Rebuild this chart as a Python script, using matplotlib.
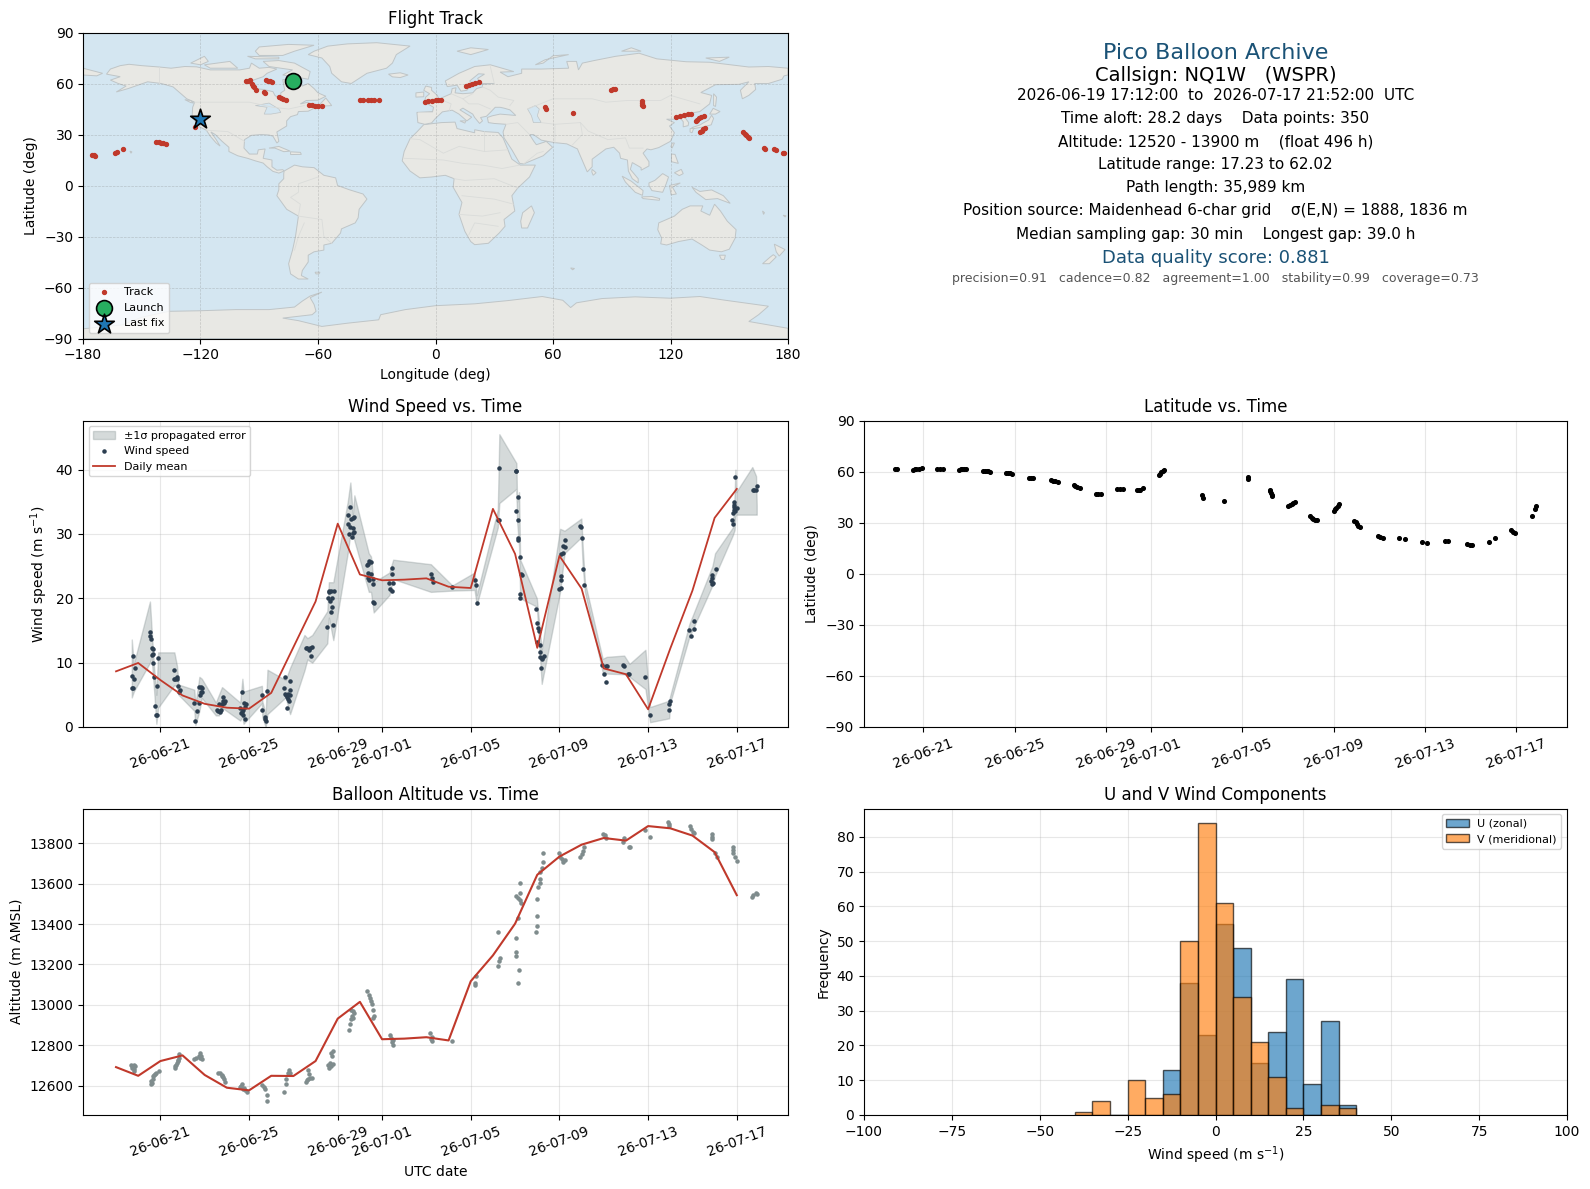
import datetime
import numpy as np
import matplotlib
matplotlib.use("Agg")
import matplotlib.pyplot as plt
import matplotlib.dates as mdates
from matplotlib.patches import Polygon

# ---- track, lon/lat
track_lon = [-175.3,-174.5,-173.7,-163.6,-162.6,-159.4,-142.5,-141.3,-140.1,-139,-137.8,-122.6,
             -96.8,-95.8,-94.9,-93.8,-93.2,-92.6,-91.9,-87.8,-87.2,-86.7,-85.6,-84.6,-83.4,-79.7,-78.8,-78,-76.4,
             -64.7,-63,-61.6,-60,-58.1,-38.7,-37,-34.7,-33,-31.2,-28.8,-5.4,-3.6,-1.9,0,1.4,2.8,
             15.7,17.2,18.7,20.3,22,56,56.2,70.1,89.5,90.7,91.9,105.2,105.4,105.7,105.9,
             123,125,127,128.8,130.5,132.9,133.6,134.5,135.8,137.3,135.2,136,136.8,137.6,
             156.8,157.8,158.7,159.5,160.3,167.8,168.3,173,173.8,177.4,178.2]
track_lat = [18.2,17.9,17.6,19.4,20,21.7,25.6,25.3,25,24.8,24.5,34.4,
             61.4,61.7,61.8,59.9,58.8,57.9,56,54.8,54.5,61.8,61.7,61.4,61.1,52,51.5,51.1,50.3,
             47.6,47.2,47,46.9,46.8,50.1,50.3,50.3,50.4,50.3,50.3,49.3,49.6,49.9,50.1,50.4,50.5,
             58.3,58.9,59.5,60.3,61.1,46.2,44.8,42.9,56.4,56.6,56.8,49.5,48.5,47.5,46.6,
             40.3,40.9,41.5,41.9,42.3,37.8,38.7,39.5,40.1,40.7,31.5,32.3,33.2,34,
             31.5,30.5,29.5,28.8,28,22.2,21.7,21.2,21,19.1,19.3]
launch_lon, launch_lat = -73.0, 61.6
last_lon, last_lat = -120.2, 39.3

# ---- land outlines (lon, lat), rough by hand
north_america = [(-168,65.5),(-166,68.5),(-161,70.5),(-156.5,71.3),(-150,70.5),(-141,69.7),(-135,69),(-128,70),(-122,69.8),(-115,68),(-108,68),(-100,68),(-95,69),(-94,72),(-90,69),(-85,69.5),(-81,68.5),(-86,66),(-88,64),(-93,62),(-94.5,59),(-92.5,57),(-88,56.5),(-83,55.2),(-82,53),(-80,51.3),(-79,52.5),(-79,54.5),(-77,56),(-77.5,59),(-78,62.3),(-73,62),(-70,61),(-68,58.5),(-65,60),(-62,57),(-60,54.5),(-56,52.5),(-60,50.2),(-66,50),(-69,48),(-65,49),(-64.5,47),(-61,46),(-65,43.7),(-70,43.5),(-70.5,41.7),(-74,40.5),(-76,38),(-76,35),(-81,31.5),(-80,26),(-81,25),(-83,29),(-85,29.7),(-89,30),(-94,29.5),(-97.5,27),(-97.8,22),(-95,18.5),(-91,18.5),(-90.5,21),(-87,21.5),(-88,16),(-83.5,15),(-83.5,11),(-81,9),(-78,9.3),(-77.3,8.5),(-80,7.3),(-83,8.3),(-86,11),(-88,13.2),(-92,14.5),(-96,16),(-101,17.5),(-105.5,20),(-105.5,22.5),(-109,26),(-112.5,30),(-114.7,31.5),(-112,27),(-110,23.2),(-112,25),(-115,29),(-117,32.5),(-120.5,34.5),(-122.5,37.5),(-124.3,40.5),(-124,46),(-123,49),(-127,51),(-130.5,54.5),(-134,58),(-140,60),(-147,61),(-152,59),(-157,57),(-163,55),(-158,58.5),(-162,60),(-166,62),(-161,64)]
south_america = [(-77.3,8.5),(-72,12),(-68,11),(-62,10.5),(-57,6),(-51,4.5),(-50,0),(-44,-2.5),(-37,-5),(-35,-8),(-39,-14),(-39.5,-19),(-41,-22),(-48,-25.5),(-48.5,-28),(-53,-34),(-57,-35),(-57,-38),(-62,-39),(-65,-41),(-65,-45),(-68,-50),(-68.5,-53),(-65,-55),(-70,-55),(-74,-52),(-75,-46),(-73,-38),(-71.5,-30),(-70,-18),(-76,-14),(-81,-6),(-80,-2.5),(-80,1),(-77.5,4),(-77.5,7)]
africa = [(-6,35.8),(3,37),(10,37.3),(11,33.5),(20,31),(20,32.8),(25,31.7),(32,31.2),(34.5,28),(37,21),(39,15.5),(43.3,12),(51,12),(48,5),(42,-1.5),(39,-6),(40.5,-15),(35,-20),(35.5,-24),(32.5,-28),(27,-34),(20,-34.8),(18,-33),(15,-27),(12,-17),(13.5,-10),(9,-1),(9.5,4),(5,6),(-2,5),(-8,4.5),(-13,8.5),(-17,14.5),(-16,20),(-13,27.5),(-9.5,31.5)]
eurasia = [(-9,37),(-9.5,43),(-1.5,43.5),(-1,46),(-4.5,48.4),(1.5,50.5),(4,52),(8,54),(8.5,57),(10.5,57.5),(10,54.5),(14,54),(19,54.5),(21,57),(24,58),(24,59.5),(30,60),(23,60),(21.5,63),(25,65.5),(22,65.7),(17.5,61.5),(18.5,59.5),(16,56),(13,55.5),(11,59),(6,58.2),(5,61.5),(12,66),(20,70),(28,71),(40,67),(33,66.7),(37,64),(44,66),(44,68.5),(54,68.5),(68,69),(67,73),(72,73),(73,68),(75,72),(81,73.5),(92,76),(104,77.8),(113,74.5),(128,72.8),(140,72.5),(160,69.7),(170,70),(180,69),(180,65),(178,64.5),(177,62.5),(170,60),(163,60),(163.5,56.5),(160,53),(156.7,51),(155.7,56),(160,61),(155,59.5),(143,59.3),(135.5,54.7),(141,53),(140,48),(135,43.5),(130,42.5),(127.5,39.8),(129.3,37),(129,35.2),(126.5,34.5),(126.5,37.5),(125,39.7),(121.5,39),(118,39),(122,37),(119.5,35),(122,31),(120,26),(114,22.3),(110,21),(108,21.5),(106,19),(109,14),(109,11.5),(105,9),(105,10.5),(100.5,13.5),(99.5,9.5),(103.5,4),(103.5,1.5),(100.5,4),(98.5,8.5),(98,15),(94.5,16),(94,19),(91,22.5),(87,21.5),(80,15.5),(80,11),(77.5,8),(73,20),(72.5,21.5),(67,24.5),(61,25.2),(57,26),(54,26.7),(50,30),(48,30),(50.2,26),(51.5,24),(55.5,25.5),(56.5,26),(59.8,22.5),(55,17.5),(45,12.7),(43,13),(39,21),(35,28),(34.5,31.5),(36,36),(30,36.5),(27,37),(26.5,40),(29,41),(33,42),(41,41.2),(38,44.5),(35,45.5),(33,46),(30.5,46),(28,43),(26,40.7),(23,40),(24,38),(22.5,36.5),(20,40),(19,42),(14,45.5),(12.5,44.5),(18.5,40.2),(16,38),(12,42),(8.5,44.3),(3.5,43.3),(0,39.5),(-2,36.8),(-5.5,36)]
australia = [(114,-22),(122,-18),(126,-14),(130,-12),(136.5,-12),(135.5,-15),(140,-17.5),(142.5,-11),(145.5,-15),(149,-21),(153.5,-26),(153,-31),(150,-37.5),(146,-39),(140,-38),(136,-35),(131,-31.5),(124,-33),(118,-35),(115,-34.3),(115.5,-31),(113.5,-26)]
antarctica = [(-180,-90),(-180,-84.3),(-160,-82),(-150,-77.5),(-136,-74),(-121,-73.7),(-102,-73),(-85,-73),(-72,-71.5),(-68,-68),(-64,-65),(-58,-62.7),(-64,-66),(-62,-70),(-61,-74),(-63,-76),(-78,-78),(-70,-79.5),(-58,-82.9),(-45,-81),(-29,-79),(-28,-76),(-15.4,-73),(0,-70.7),(20,-69.6),(37,-67.7),(54.5,-65.3),(65,-67.5),(69,-71.8),(72,-69),(85,-66.5),(102,-65.5),(120,-66.3),(135,-65.3),(148,-67.5),(170,-71),(165,-76),(160,-80),(180,-84),(180,-90)]
greenland = [(-62,79),(-55,82),(-45,83.3),(-30,84),(-13,82),(-20,77),(-22,72),(-25,69),(-35,66),(-43,60),(-48,61),(-53,66),(-54,70),(-58,75),(-65,77)]
islands = [
    [(-80,73.5),(-72,72),(-64,67),(-65,62.5),(-72,64),(-78,65),(-73,68),(-85,70),(-88,73)],
    [(-90,76.5),(-78,76.5),(-72,79),(-62,82.5),(-75,83),(-90,81.5),(-92,79)],
    [(-118,71),(-105,73),(-101,69),(-115,69)],
    [(-125,72),(-118,76),(-116,73),(-120,71)],
    [(-96,76),(-80,75.5),(-80,74.5),(-92,74.5)],
    [(-59,47.8),(-56,51.5),(-53,47),(-56,46.8)],
    [(-85,22),(-80,23),(-74.2,20.2),(-77.5,19.9),(-82,22)],
    [(-74,19.8),(-69,19.5),(-68.5,18.3),(-74,18.2)],
    [(-24,65.5),(-18,66.3),(-14,65),(-18,63.5),(-22,63.9)],
    [(49,-12),(50.5,-16),(47,-25),(44,-25),(43.5,-21),(44.5,-16)],
    [(-180,69),(-175,67.5),(-170,66),(-173,64.5),(-180,65)],
    [(-5.5,50),(1.5,51.2),(1,53),(-2,56),(-2,57.7),(-5,58.5),(-6,56),(-3,54),(-5,52)],
    [(-10,52),(-6,52.2),(-6,55),(-10,54.5)],
    [(12.5,38),(15.5,38),(15,36.7)],
    [(130.8,34),(135,35.6),(137,37),(139.5,38.5),(141,41.3),(142,39.5),(140.8,35.7),(137,34.5),(132,33.5)],
    [(130,33.5),(131.8,33.5),(131,31),(130,31.5)],
    [(140,42),(141.8,45.4),(145.3,43.5),(143,42)],
    [(142,54),(143.5,52),(143,46.5),(142,47),(142,51)],
    [(121,25),(122,25),(120.8,22),(120.2,23)],
    [(80,9.5),(82,7.5),(80.5,6),(79.8,8)],
    [(120.5,18.5),(122.3,18.3),(124,13),(120.5,14)],
    [(122,7.5),(125.5,9.5),(126.5,7),(124.5,5.8)],
    [(95.3,5.5),(100,2.5),(106,-3),(105.7,-5.8),(102,-4),(97,2)],
    [(105.2,-6.7),(110.5,-6.5),(114.5,-7.7),(114.3,-8.7),(106,-7.7)],
    [(109,1.5),(112,3),(116,7),(119,5),(117.8,1),(116,-4),(110.5,-3),(109,0)],
    [(119.5,0),(125,1.5),(121,-1),(123,-5),(120.3,-5.5)],
    [(131,-1),(135,-3.5),(141,-2.6),(147,-6),(150.5,-10.5),(144,-7.7),(138,-8.3),(133,-4)],
    [(145,-41),(148,-41),(147.5,-43.5),(146,-43.5)],
    [(173,-34.5),(178.5,-37.7),(175.5,-41.5),(174,-39)],
    [(172.5,-40.7),(174,-42),(170.5,-46),(167,-46),(171,-42)],
    [(11,79),(18,81),(27,80),(18,77)],
    [(51,71),(56,74),(68,77),(60,76.3),(55,72)],
    [(95,79),(105,79),(100,81)],
    [(138,75),(150,75.5),(145,73)],
    [(-128,50.5),(-125,50),(-123.5,48.5),(-125,48.8)],
    [(-61.5,-51),(-59,-51),(-59.5,-52),(-61,-52)],
    [(69,-48.5),(71,-48.8),(70,-49.6)],
    [(167,-15),(168,-16),(167.5,-17)],
    [(177.5,-17.5),(179,-17.8),(178.5,-18.5)],
    [(-156,20.2),(-155,19.8),(-155.5,19)],
]
inland_water = [
    [(47,45),(51,47),(53,45),(52,41),(54,37),(50,37),(49,41)],
    [(-92,47),(-85,48.5),(-80,45),(-79,43),(-84,42),(-87.5,42),(-86,46)],
]
borders = [
    [(-123,49),(-95,49),(-83,46),(-75,45),(-67,47)],
    [(-117,32.5),(-106,31.7),(-97.5,26)],
    [(-141,69.7),(-141,60)],
    [(-70,-18),(-58,-20),(-57,-30),(-53,-34)],
    [(-70,-18),(-69,-11),(-74,-7),(-70,-4),(-70,1),(-60,5)],
    [(-72,-38),(-70,-30),(-67,-22)],
    [(-9,43),(-2,43)],[(2,51),(6,49),(8,48),(7,44)],[(8,54),(14,51),(19,54)],[(14,51),(17,48),(22,48),(28,45)],
    [(28,70),(30,60)],[(24,58),(28,56),(32,52),(40,50),(38,47)],[(47,45),(60,51),(80,51),(87,49),(98,50),(115,50),(120,53),(135,48)],
    [(54,37),(61,36),(61,25)],[(61,36),(74,37),(78,32),(88,27),(97,28),(99,22),(106,22)],[(74,37),(75,30),(70,24)],
    [(36,36),(42,37),(48,30)],[(45,12.7),(52,19),(55,20)],
    [(-13,27.5),(-8,27),(4,19),(12,23),(25,20),(25,31.7)],[(25,20),(37,21)],[(-16,16),(4,15),(14,13),(24,12),(34,10),(43,12)],
    [(9.5,4),(15,3),(30,4),(42,-1.5)],[(13.5,-6),(30,-8),(40,-11)],[(12,-17),(24,-18),(33,-16)],[(17,-29),(20,-22),(32,-24)],
]

# ---- wind panel, days after 2026-06-21 00:00 UTC
wind_t = [-1.29,-1.25,-1.27,-1.17,-1.22,-1.16,
          -.47,-.45,-.41,-.38,-.33,-.38,-.32,-.32,-.29,-.14,-.23,-.18,-.17,-.09,
          .63,.62,.68,.74,.77,.81,.87,.83,
          1.53,1.58,1.67,1.76,1.74,1.82,1.89,1.79,1.83,1.89,
          2.56,2.62,2.68,2.72,2.63,2.77,2.84,2.81,2.90,2.86,
          3.70,3.61,3.65,3.70,3.74,3.82,3.77,3.86,3.83,3.74,
          4.60,4.83,4.60,4.71,4.77,4.74,
          5.64,5.86,5.59,5.85,5.67,5.77,5.85,5.70,5.77,5.82,5.73,5.62,
          6.56,6.63,6.69,6.75,6.86,6.80,
          7.53,7.58,7.62,7.70,7.82,7.61,7.74,7.65,7.74,7.71,7.80,
          8.57,8.48,8.68,8.75,8.60,8.48,8.56,8.71,8.75,8.71,8.53,8.66,
          9.41,9.48,9.35,9.33,9.38,9.51,9.35,9.41,9.58,9.61,9.61,9.65,
          10.44,10.47,10.33,10.50,10.36,10.44,
          12.2,12.26,12.29,13.17,14.17,14.23,14.27,15.29,15.22,15.29,
          16.03,16.06,16.15,16.06,16.11,16.11,16.15,16.24,16.27,16.3,16.24,16.2,
          16.96,17.0,17.05,17.1,16.99,17.13,17.14,17.14,17.29,17.22,17.23,17.19,
          18.05,18.05,18.05,18.0,18.09,18.18,18.18,18.24,18.23,
          18.95,18.99,19.04,19.08,19.13,
          19.94,20.15,20.1,20.03,20.12,20.89,20.93,21.11,21.16,21.88,
          22.1,22.92,22.96,23.0,23.86,23.95,24.05,24.09,
          24.9,24.87,24.84,24.89,24.92,25.08,
          25.8,25.82,25.85,25.88,25.89,25.93,26.0,25.94,25.86,25.87,
          26.71,26.78,26.87,26.9]
wind_speed = [6.1,6.1,7.9,7.5,11.0,9.1,
              14.8,14.1,13.6,12.3,12.1,11.2,11.4,10,7.7,6.3,3.2,1.9,1.9,10.8,
              8.9,7.4,7.5,7.8,7.4,6.4,5.8,5.5,
              3.7,1.0,2.5,3.8,6.2,6.2,6.1,5,5.4,5.5,
              2.6,2.5,2.3,2.6,3.6,3.6,4.7,4.1,4.1,3.8,
              5.5,3.0,2.2,2.3,2.7,1.3,3.7,3.6,3.1,1.8,
              5.0,5.6,2.6,1.5,1.0,1.2,
              7.7,7.2,6.1,5.8,5,5.2,4.9,4.6,4.4,4,3,5.2,
              12.3,12.2,12,12.2,12.5,11,
              15.6,20,21.1,21.2,21.2,21,20.1,19.6,18.7,17.8,15.8,
              34.2,33,32.5,32.6,32.4,31.6,31.1,31,30.3,30.2,30,29.6,
              25.8,25.7,25.4,25.1,23.9,23.8,23.1,22.8,23,22.2,19.4,19.3,
              24.7,23.8,22.4,22.4,21.5,21.1,
              23.7,23.1,22.5,21.7,22.9,22,19.2,40.2,32.2,32.1,
              39.8,39.8,35.8,33.6,32.2,29.4,29.1,26.4,23.8,23.6,20.7,20.1,
              18.4,16.2,15.4,14.9,13.2,12.7,11.7,10.9,11.1,10.8,10.5,9.1,
              23.5,22.8,21.6,21.5,26.9,27.1,28.1,27.9,29.1,
              31.2,31.1,29.3,24.6,22,
              9.6,9.5,9.5,8.2,7,9.6,9.5,8.3,8.3,7.7,
              1.9,2.7,3.6,4,15,14.2,15.2,16.5,
              23.6,23.1,22.7,22.3,22.4,24.6,
              32.1,31.5,33.2,34.2,35,33.5,34,38.8,33.7,34.5,
              36.8,36.8,36.8,37.4]

# outline of the error band
band_t = [-1.29,-1.2,-.47,-.4,-.29,-.18,-.1,.63,.75,.82,1.53,1.58,1.76,1.87,2.5,2.64,2.78,3.6,3.7,3.75,
          4.58,4.6,4.75,4.83,5.65,5.85,6.5,6.63,6.85,7.53,7.6,7.8,8.45,8.57,8.68,8.75,9.4,9.5,9.62,
          10.33,10.5,12.2,13.17,14.17,14.27,15.22,15.29,16.06,16.09,16.18,16.23,16.98,17.2,18.03,18.23,
          18.99,19.05,19.15,19.95,20.13,20.92,21.16,21.88,22.09,22.95,23.0,23.86,24.9,25.02,25.82,25.9,25.94,25.97,26.7,26.87,26.9]
band_hi = [13.6,9.8,19.5,15.5,9.5,5,11.6,11.6,9.5,6.6,5.8,3.5,7.8,7.5,3.8,5,6.2,3.8,7.5,5.5,
           6.4,4,2,8.9,7.3,9.2,14.3,13.8,14.3,18,22.5,22.5,35,38,33,36,27,26.5,22.5,
           24,26,25.3,22,24,20.5,33.8,45.5,41,35,36.5,26,20,12,30.8,30.5,
           32.4,28,22.5,10.6,10.9,11.1,9.8,12,3.1,4.1,4.9,16,25,27,31,36,40,36.5,40.4,39,34.4]
band_lo = [4.6,5.5,10,11,6,0.5,3,6.5,6.3,5,2.5,0.3,2.5,4.5,1.8,1.8,3,1,1.6,0.5,
           3.7,1.5,0,2,4.6,2,8.8,10.5,10,13,17,13.5,27,30,30,29,21,21,17.8,
           20.5,23,21,21.2,21.3,19,31,34.8,37,32,28,20,18.7,6.7,21,27,
           29.5,25,21,8.5,8.3,8.2,7.8,5.9,0.75,1.35,3.8,14,22,23.5,29.8,30.6,32.7,33,33,33,33]

# midnight UTC means, days -2 .. 26
mean_t = list(range(-2, 27))
wind_mean = [8.65,9.95,7.3,4.9,3.6,3.0,2.85,5.3,12.4,19.5,31.6,23.7,22.8,22.9,23.1,21.8,21.6,33.9,26.9,12.3,26.6,21.5,9.1,8.2,2.75,12.2,21.2,32.5,37]
alt_mean = [12692,12649,12722,12750,12653,12590,12577,12649,12648,12722,12932,13015,12830,12833,12840,12824,13117,13245,13402,13644,13734,13793,13826,13813,13885,13874,13838,13756,13543]

# ---- latitude panel
lat_t = [-1.24,-1.16,-.46,-.38,-.31,-.2,-.08,.60,.72,.85,1.57,1.65,1.70,1.80,1.88,2.63,2.70,2.77,2.85,2.92,3.63,3.72,3.79,3.89,4.62,4.72,4.82,
         5.59,5.68,5.76,5.90,6.60,6.66,6.73,6.85,7.56,7.68,7.81,8.49,8.62,8.76,9.36,9.45,9.52,9.63,10.33,10.38,10.44,10.5,10.56,
         12.22,12.26,13.19,14.24,14.24,15.2,15.23,15.26,15.29,15.32,16.02,16.1,16.17,16.24,16.31,16.98,17.04,17.10,17.2,17.29,
         18.0,18.05,18.1,18.18,18.26,18.92,18.98,19.03,19.09,19.15,19.94,20.05,20.16,20.89,21.14,21.9,22.1,22.88,23.04,
         23.87,24.0,24.1,24.84,25.07,25.8,25.9,25.98,26.73,26.85,26.9]
lat_deg = [61.8,61.4,61.2,61.5,61.8,61.9,62,61.4,61.4,61.4,61.2,61.4,61.6,61.5,61.4,60.2,60.4,60.6,60.3,60,59.2,59.1,59,58.4,56.6,56.6,56.6,
           55.1,54.8,54.5,54.1,52.3,51.7,51.1,50.5,47.2,47.2,47.2,50.1,50.1,50.1,49.5,49.5,49.5,50.7,58,58.8,59.6,60.3,61,
           46.2,44.8,43,57,55.5,49.5,48.5,47.6,46.6,45.6,39.7,40.3,40.9,41.5,42.2,34,33,32.2,31.7,31.4,
           36.9,37.9,38.9,40,41.3,31.2,30.3,29.4,28.4,27.5,22.3,21.6,20.9,21.1,20.7,19,18.2,19.4,19.4,
           17.4,17.1,16.8,19,21.1,25.5,24.7,23.9,34.2,38.3,39.7]

# ---- altitude panel
alt_t = [-1.33,-1.26,-1.20,-1.16,-1.26,-1.20,-1.18,-1.24,
         -.44,-.41,-.35,-.31,-.25,-.19,-.08,-.39,-.29,
         .66,.70,.77,.81,.64,.85,.83,.79,
         1.51,1.62,1.72,1.80,1.84,1.89,1.78,
         2.59,2.69,2.78,2.82,2.86,2.90,2.76,
         3.60,3.69,3.75,3.83,3.89,3.71,3.65,
         4.58,4.66,4.72,4.79,4.83,
         5.59,5.66,5.68,5.74,5.80,5.86,5.78,
         6.59,6.65,6.67,6.69,6.75,6.84,6.61,
         7.60,7.69,7.77,7.73,7.77,7.64,7.71,7.56,
         8.49,8.56,8.60,8.64,8.68,8.74,8.62,8.70,
         9.34,9.41,9.47,9.51,9.55,9.57,9.63,9.59,
         10.36,10.42,10.48,10.50,10.44,
         12.18,12.24,12.26,12.20,13.15,14.19,14.25,14.17,
         15.21,15.31,15.29,15.25,
         16.14,16.18,16.03,16.06,16.06,16.12,16.24,16.22,16.06,16.12,16.20,16.28,
         16.95,16.97,17.01,16.99,17.05,17.11,17.13,17.13,17.2,17.26,17.26,
         18.0,18.02,18.11,18.17,18.23,18.94,19.0,19.06,19.12,
         19.95,20.05,20.12,20.92,20.88,21.13,21.17,21.88,22.10,
         22.91,22.93,22.95,23.87,23.93,24.01,24.09,24.86,24.88,24.90,25.03,25.09,
         25.83,25.85,25.83,25.94,26.0,26.70,26.74,26.87,26.91]
alt_m = [12702,12697,12700,12697,12687,12681,12674,12692,
         12607,12623,12635,12648,12658,12664,12672,12615,12653,
         12689,12700,12714,12727,12697,12755,12738,12720,
         12730,12738,12746,12760,12746,12733,12738,
         12661,12661,12654,12644,12631,12618,12648,
         12595,12607,12590,12579,12569,12585,12598,
         12602,12595,12585,12552,12526,
         12569,12607,12631,12661,12677,12664,12656,
         12618,12631,12677,12656,12640,12640,12628,
         12689,12697,12705,12746,12771,12714,12760,12700,
         12878,12903,12928,12944,12969,12960,12974,12936,
         13071,13051,13035,13018,13002,12974,12947,12936,
         12853,12837,12825,12801,12816,
         12862,12842,12821,12832,12822,13097,13145,13109,
         13360,13232,13216,13193,
         13109,13173,13263,13244,13331,13430,13602,13553,13537,13528,13517,13504,
         13359,13388,13439,13523,13583,13602,13622,13660,13677,13709,13751,
         13751,13731,13721,13709,13718,13731,13747,13764,13783,
         13846,13841,13828,13825,13808,13783,13783,13866,13833,
         13907,13895,13885,13885,13869,13858,13853,13846,13833,13820,13754,13731,
         13783,13767,13751,13731,13711,13533,13543,13553,13548]

# ---- wind component histogram, 5 m/s bins
hist_left = list(range(-40, 40, 5))
u_counts = [0,0,0,0,0,13,38,23,55,48,15,24,39,9,27,3]
v_counts = [1,4,0,10,5,6,50,84,61,34,21,11,2,0,3,2]

tick_days = [0,4,8,10,14,18,22,26]

info_lines = [
    ("Pico Balloon Archive", 16, "#1a5276"),
    ("Callsign: NQ1W   (WSPR)", 14, "black"),
    ("2026-06-19 17:12:00  to  2026-07-17 21:52:00  UTC", 11, "black"),
    ("Time aloft: 28.2 days    Data points: 350", 11, "black"),
    ("Altitude: 12520 - 13900 m    (float 496 h)", 11, "black"),
    ("Latitude range: 17.23 to 62.02", 11, "black"),
    ("Path length: 35,989 km", 11, "black"),
    ("Position source: Maidenhead 6-char grid    σ(E,N) = 1888, 1836 m", 11, "black"),
    ("Median sampling gap: 30 min    Longest gap: 39.0 h", 11, "black"),
    ("Data quality score: 0.881", 13, "#1a5276"),
    ("precision=0.91   cadence=0.82   agreement=1.00   stability=0.99   coverage=0.73", 9, "#555555"),
]
info_y = [.934,.861,.794,.718,.643,.569,.493,.418,.341,.262,.195]

RED = "#c0392b"
NAVY = "#2c3e50"
GREY = "#7f8c8d"

W, H = 1590, 1189
base = mdates.date2num(datetime.datetime(2026, 6, 21))


def box(l, t, r, b):
    return fig.add_axes([l / W, 1 - b / H, (r - l) / W, (b - t) / H])


def to_date(days):
    return base + np.array(days, dtype=float)


def date_axis(ax, lo, hi):
    ax.set_xlim(base + lo, base + hi)
    ax.set_xticks(to_date(tick_days))
    ax.xaxis.set_major_formatter(mdates.DateFormatter("%y-%m-%d"))
    ax.tick_params(axis="x", labelrotation=20)
    ax.grid(True, color="#b0b0b0", alpha=0.3, lw=0.8)
    ax.set_axisbelow(True)


fig = plt.figure(figsize=(W / 100, H / 100), dpi=100)
ax_map = box(83, 32.5, 788, 338.5)
ax_info = box(864, 32.5, 1567, 338.5)
ax_wind = box(83, 420.7, 788, 727)
ax_lat = box(864, 420.7, 1567, 727)
ax_alt = box(83, 808.5, 788, 1115)
ax_hist = box(864, 808.5, 1567, 1115)

# map
ax_map.set_facecolor("#d4e6f1")
land = [north_america, south_america, africa, eurasia, australia, antarctica, greenland] + islands
for shape in land:
    ax_map.add_patch(Polygon(shape, closed=True, fc="#e8e8e4", ec="#bfc5c7", lw=0.7, zorder=1))
for shape in inland_water:
    ax_map.add_patch(Polygon(shape, closed=True, fc="#d4e6f1", ec="#bfc5c7", lw=0.5, zorder=1.1))
for line in borders:
    xs, ys = zip(*line)
    ax_map.plot(xs, ys, color="#dadcda", lw=0.6, zorder=1.2)
ax_map.scatter(track_lon, track_lat, s=8, color=RED, zorder=3, label="Track")
ax_map.scatter([launch_lon], [launch_lat], s=130, color="#27ae60", ec="black", lw=1.2, zorder=4, label="Launch")
ax_map.scatter([last_lon], [last_lat], s=220, marker="*", color="#1f77b4", ec="black", lw=1.2, zorder=5, label="Last fix")
ax_map.set_xlim(-180, 180)
ax_map.set_ylim(-90, 90)
ax_map.set_xticks(range(-180, 181, 60))
ax_map.set_yticks(range(-90, 91, 30))
ax_map.grid(True, color="#808080", alpha=0.35, lw=0.5, ls="--", zorder=2)
ax_map.set_xlabel("Longitude (deg)")
ax_map.set_ylabel("Latitude (deg)")
ax_map.set_title("Flight Track", fontsize=12)
ax_map.legend(loc="lower left", fontsize=8)

# text block
ax_info.axis("off")
for (txt, size, col), y in zip(info_lines, info_y):
    ax_info.text(0.5, y, txt, fontsize=size, color=col, ha="center", va="center", transform=ax_info.transAxes)

# wind
ax_wind.fill_between(to_date(band_t), band_lo, band_hi, color=GREY, alpha=0.32, zorder=1, label="±1σ propagated error")
ax_wind.scatter(to_date(wind_t), wind_speed, s=5, color=NAVY, zorder=2, label="Wind speed")
ax_wind.plot(to_date(mean_t), wind_mean, color=RED, lw=1.3, zorder=3, label="Daily mean")
date_axis(ax_wind, -3.49, 28.31)
ax_wind.set_ylim(0, 47.6)
ax_wind.set_ylabel("Wind speed (m s$^{-1}$)")
ax_wind.set_title("Wind Speed vs. Time", fontsize=12)
ax_wind.legend(loc="upper left", fontsize=8)

# latitude
ax_lat.scatter(to_date(lat_t), lat_deg, s=7, color="black", zorder=2)
date_axis(ax_lat, -2.61, 28.25)
ax_lat.set_ylim(-90, 90)
ax_lat.set_yticks(range(-90, 91, 30))
ax_lat.set_ylabel("Latitude (deg)")
ax_lat.set_title("Latitude vs. Time", fontsize=12)

# altitude
ax_alt.scatter(to_date(alt_t), alt_m, s=5, color=GREY, zorder=2)
ax_alt.plot(to_date(mean_t), alt_mean, color=RED, lw=1.5, zorder=3)
date_axis(ax_alt, -3.49, 28.31)
ax_alt.set_ylim(12455, 13972)
ax_alt.set_yticks(range(12600, 13801, 200))
ax_alt.set_xlabel("UTC date")
ax_alt.set_ylabel("Altitude (m AMSL)")
ax_alt.set_title("Balloon Altitude vs. Time", fontsize=12)

# histogram
ax_hist.bar(hist_left, u_counts, width=5, align="edge", color="#1f77b4", alpha=0.65, ec="black", label="U (zonal)", zorder=2)
ax_hist.bar(hist_left, v_counts, width=5, align="edge", color="#ff7f0e", alpha=0.65, ec="black", label="V (meridional)", zorder=3)
ax_hist.set_xlim(-100, 100)
ax_hist.set_ylim(0, 88.2)
ax_hist.set_xticks(range(-100, 101, 25))
ax_hist.set_yticks(range(0, 81, 10))
ax_hist.grid(True, color="#b0b0b0", alpha=0.3, lw=0.8, zorder=0)
ax_hist.set_axisbelow(True)
ax_hist.set_xlabel("Wind speed (m s$^{-1}$)")
ax_hist.set_ylabel("Frequency")
ax_hist.set_title("U and V Wind Components", fontsize=12)
ax_hist.legend(loc="upper right", fontsize=8)

fig.savefig("out.png", dpi=100)
